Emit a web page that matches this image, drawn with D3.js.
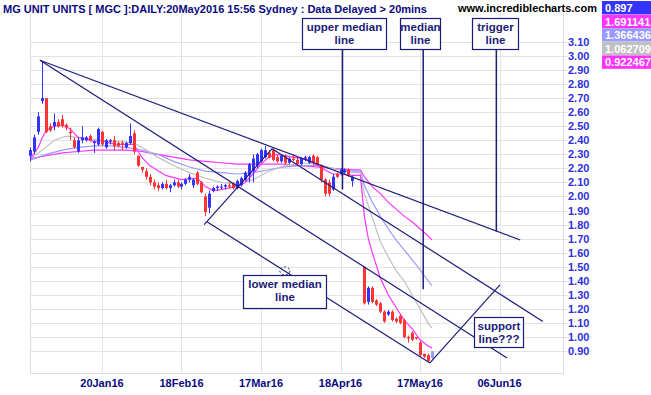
<!DOCTYPE html>
<html>
<head>
<meta charset="utf-8">
<script src="https://cdn.jsdelivr.net/npm/d3@7"></script>
<style>
  body { margin: 0; background: #fff; }
  svg { display: block; font-family: "Liberation Sans", Arial, sans-serif; }
</style>
</head>
<body>
<svg id="chart" width="651" height="395"></svg>
<script>
// bar index 0 = 20Jan16, one step per trading day
var tickIdx = [0, 20, 40, 60, 80, 100];
var tickLabels = ["20Jan16", "18Feb16", "17Mar16", "18Apr16", "17May16", "06Jun16"];
var priceTicks = [0.9, 1.0, 1.1, 1.2, 1.3, 1.4, 1.5, 1.6, 1.7, 1.8, 1.9, 2.0, 2.1, 2.2, 2.3, 2.4, 2.5, 2.6, 2.7, 2.8, 2.9, 3.0, 3.1];

// candles: [index, open, high, low, close]
var candles = [
  [-18, 2.29, 2.35, 2.25, 2.33], [-17, 2.32, 2.44, 2.30, 2.42], [-16, 2.46, 2.60, 2.44, 2.57],
  [-15, 2.68, 2.96, 2.66, 2.70], [-14, 2.70, 2.70, 2.45, 2.46], [-13, 2.50, 2.52, 2.46, 2.47],
  [-12, 2.50, 2.59, 2.47, 2.53], [-11, 2.53, 2.55, 2.49, 2.50], [-10, 2.55, 2.58, 2.49, 2.50],
  [-9, 2.51, 2.52, 2.47, 2.49], [-8, 2.46, 2.49, 2.40, 2.45], [-7, 2.40, 2.42, 2.34, 2.35],
  [-6, 2.32, 2.42, 2.31, 2.40], [-5, 2.40, 2.50, 2.38, 2.42], [-4, 2.40, 2.43, 2.39, 2.42],
  [-3, 2.43, 2.44, 2.39, 2.40], [-2, 2.38, 2.40, 2.31, 2.39], [-1, 2.37, 2.49, 2.36, 2.48],
  [0, 2.46, 2.47, 2.36, 2.37], [1, 2.35, 2.41, 2.34, 2.40], [2, 2.39, 2.41, 2.37, 2.40],
  [3, 2.40, 2.43, 2.33, 2.36], [4, 2.38, 2.39, 2.35, 2.36], [5, 2.38, 2.40, 2.33, 2.37],
  [6, 2.35, 2.39, 2.34, 2.38], [7, 2.38, 2.52, 2.37, 2.43], [8, 2.45, 2.47, 2.30, 2.32],
  [9, 2.29, 2.29, 2.21, 2.22], [10, 2.21, 2.21, 2.17, 2.19], [11, 2.18, 2.20, 2.12, 2.14],
  [12, 2.14, 2.16, 2.08, 2.10], [13, 2.10, 2.12, 2.05, 2.07], [14, 2.08, 2.10, 2.04, 2.06],
  [15, 2.06, 2.10, 2.05, 2.09], [16, 2.09, 2.12, 2.05, 2.06], [17, 2.06, 2.09, 2.03, 2.08],
  [18, 2.08, 2.12, 2.07, 2.10], [19, 2.10, 2.12, 2.06, 2.07], [20, 2.07, 2.10, 2.05, 2.09],
  [21, 2.09, 2.13, 2.08, 2.12], [22, 2.12, 2.16, 2.10, 2.14], [23, 2.08, 2.13, 2.06, 2.12],
  [24, 2.17, 2.18, 2.08, 2.09], [25, 2.10, 2.11, 2.02, 2.03], [26, 2.00, 2.02, 1.86, 1.89],
  [27, 1.92, 2.04, 1.88, 2.02], [28, 2.04, 2.07, 2.03, 2.06], [29, 2.06, 2.08, 2.04, 2.07],
  [30, 2.07, 2.09, 2.05, 2.07], [31, 2.07, 2.09, 2.05, 2.08], [32, 2.08, 2.10, 2.06, 2.07],
  [33, 2.09, 2.10, 2.05, 2.06], [34, 2.06, 2.12, 2.05, 2.11], [35, 2.08, 2.14, 2.07, 2.13],
  [36, 2.12, 2.18, 2.11, 2.17], [37, 2.15, 2.24, 2.10, 2.23], [38, 2.18, 2.30, 2.10, 2.27],
  [39, 2.22, 2.31, 2.20, 2.30], [40, 2.25, 2.34, 2.24, 2.33], [41, 2.28, 2.36, 2.27, 2.33],
  [42, 2.31, 2.33, 2.27, 2.28], [43, 2.33, 2.34, 2.25, 2.26], [44, 2.28, 2.30, 2.24, 2.25],
  [45, 2.25, 2.30, 2.24, 2.29], [46, 2.29, 2.30, 2.23, 2.24], [47, 2.24, 2.28, 2.23, 2.27],
  [48, 2.27, 2.30, 2.25, 2.26], [49, 2.26, 2.28, 2.22, 2.23], [50, 2.23, 2.28, 2.22, 2.27],
  [51, 2.27, 2.29, 2.25, 2.28], [52, 2.24, 2.29, 2.23, 2.28], [53, 2.29, 2.30, 2.22, 2.24],
  [54, 2.28, 2.29, 2.22, 2.23], [55, 2.22, 2.23, 2.10, 2.12], [56, 2.12, 2.13, 2.00, 2.02],
  [57, 2.10, 2.12, 2.00, 2.02], [58, 2.05, 2.16, 2.04, 2.14], [59, 2.16, 2.17, 2.13, 2.14],
  [60, 2.16, 2.20, 2.15, 2.19], [61, 2.17, 2.20, 2.16, 2.19], [62, 2.19, 2.20, 2.14, 2.15],
  [63, 2.11, 2.15, 2.07, 2.14],
  [66, 1.50, 1.50, 1.23, 1.24], [67, 1.25, 1.36, 1.23, 1.35], [68, 1.35, 1.36, 1.24, 1.25],
  [69, 1.26, 1.27, 1.22, 1.23], [70, 1.24, 1.25, 1.17, 1.18], [71, 1.18, 1.19, 1.10, 1.11],
  [72, 1.16, 1.19, 1.15, 1.18], [73, 1.18, 1.19, 1.11, 1.12], [74, 1.13, 1.14, 1.10, 1.11],
  [75, 1.15, 1.16, 1.09, 1.10], [76, 1.12, 1.13, 0.99, 1.00], [77, 1.00, 1.01, 0.96, 0.99],
  [78, 1.03, 1.04, 0.97, 0.98], [79, 1.00, 1.00, 0.98, 0.99], [80, 0.96, 0.97, 0.86, 0.87],
  [81, 0.88, 0.88, 0.85, 0.86], [82, 0.87, 0.88, 0.82, 0.83], [83, 0.85, 0.90, 0.84, 0.897]
];

// moving averages: [index, value]
var maFast = [[-18, 2.27], [-16, 2.35], [-15, 2.42], [-14, 2.47], [-12, 2.50], [-10, 2.51], [-8, 2.48],
  [-6, 2.42], [-4, 2.41], [-2, 2.39], [0, 2.40], [2, 2.38], [4, 2.37], [6, 2.37], [8, 2.37], [10, 2.28],
  [12, 2.22], [16, 2.15], [20, 2.12], [24, 2.13], [26, 2.07], [28, 2.04], [30, 2.05], [34, 2.07],
  [36, 2.10], [38, 2.16], [40, 2.23], [42, 2.28], [44, 2.30], [48, 2.28], [52, 2.26], [56, 2.19],
  [58, 2.16], [60, 2.16], [63, 2.15], [65, 2.15], [66, 1.86], [67, 1.70], [68, 1.60], [70, 1.42],
  [72, 1.30], [74, 1.21], [76, 1.12], [78, 1.06], [80, 0.98], [82, 0.935], [83, 0.922]];
var maGrey = [[-18, 2.27], [-15, 2.33], [-12, 2.40], [-9, 2.43], [-6, 2.42], [-3, 2.41], [0, 2.40],
  [4, 2.39], [8, 2.38], [10, 2.35], [14, 2.28], [18, 2.22], [22, 2.17], [26, 2.13], [30, 2.10],
  [34, 2.09], [38, 2.12], [42, 2.18], [46, 2.22], [50, 2.24], [54, 2.23], [58, 2.20], [63, 2.17],
  [65, 2.17], [66, 2.02], [68, 1.85], [70, 1.68], [72, 1.57], [74, 1.47], [76, 1.40], [78, 1.30],
  [80, 1.20], [82, 1.10], [83, 1.063]];
var maLav = [[-18, 2.26], [-14, 2.30], [-10, 2.33], [-6, 2.35], [-2, 2.36], [2, 2.36], [6, 2.35],
  [10, 2.33], [14, 2.30], [18, 2.25], [22, 2.21], [26, 2.18], [30, 2.17], [34, 2.16], [38, 2.17],
  [42, 2.19], [46, 2.21], [50, 2.22], [54, 2.22], [58, 2.20], [63, 2.18], [65, 2.18], [66, 2.08],
  [68, 1.96], [70, 1.86], [72, 1.77], [74, 1.69], [76, 1.62], [78, 1.55], [80, 1.48], [82, 1.40],
  [83, 1.366]];
var maSlow = [[-18, 2.27], [-14, 2.29], [-10, 2.31], [-6, 2.32], [-2, 2.33], [2, 2.33], [6, 2.33],
  [10, 2.32], [14, 2.30], [18, 2.28], [22, 2.26], [26, 2.25], [30, 2.24], [34, 2.23], [38, 2.23],
  [42, 2.23], [46, 2.23], [50, 2.22], [54, 2.21], [58, 2.20], [63, 2.19], [65, 2.19], [66, 2.14],
  [68, 2.07], [70, 2.02], [72, 1.96], [74, 1.91], [76, 1.86], [78, 1.82], [80, 1.77], [82, 1.72],
  [83, 1.691]];

var legendVals = ["0.897", "1.691141", "1.366436", "1.062709", "0.922467"];
var legendColors = ["#3333ff", "#ff33ff", "#9999ff", "#c0c0c0", "#ff33ff"];

// drawn trend lines: [[index, value], [index, value]]
var trendLines = [
  [[-15.6, 2.97], [105.2, 1.69]],   // trigger line
  [[-15.6, 2.97], [101.9, 0.85]],   // median line
  [[42.8, 2.34], [110.9, 1.11]],    // upper median line
  [[26.4, 1.82], [82.5, 0.815]],    // lower median line
  [[25.7, 1.80], [42.8, 2.34]],     // A-B
  [[82.5, 0.815], [100.1, 1.37]]    // support line
];

// text boxes: label lines, box [x, y, w, h], pointer [index, value] or null
var notes = [
  { text: ["upper median", "line"], box: [302, 18, 84, 31], ptr: [60.5, 2.05] },
  { text: ["median", "line"], box: [400, 18, 40, 31], ptr: [80.8, 1.34] },
  { text: ["trigger", "line"], box: [472, 18, 46, 31], ptr: [99.2, 1.75] },
  { text: ["lower median", "line"], box: [243, 275, 83, 33], ptr: null },
  { text: ["support", "line???"], box: [474, 317, 49, 30], ptr: null }
];

var pLeft = 30, pRight = 563, pTop = 13, pBottom = 373;

var x = d3.scaleLinear().domain([-18.11, 115.97]).range([pLeft, pRight]);
var y = d3.scaleLinear().domain([0.7434, 3.306]).range([pBottom, pTop]);

var svg = d3.select("#chart");
var navy = "#1c1c78";

// grid
svg.append("g").selectAll("line").data(priceTicks).enter().append("line")
  .attr("x1", pLeft).attr("x2", pRight + 5)
  .attr("y1", function (d) { return Math.round(y(d)) + 0.5; })
  .attr("y2", function (d) { return Math.round(y(d)) + 0.5; })
  .attr("stroke", "#e3e3e3");
svg.append("g").selectAll("line").data(tickIdx).enter().append("line")
  .attr("x1", function (d) { return Math.round(x(d)) + 0.5; })
  .attr("x2", function (d) { return Math.round(x(d)) + 0.5; })
  .attr("y1", pTop).attr("y2", pBottom)
  .attr("stroke", "#e3e3e3");
svg.append("path")
  .attr("d", "M" + (pLeft + 0.5) + "," + pTop + "V" + (pBottom + 0.5) + "H" + (pRight + 0.5) + "V" + pTop)
  .attr("fill", "none").attr("stroke", "#dcdcdc");

// axes labels
svg.append("g").selectAll("text").data(priceTicks).enter().append("text")
  .attr("x", 568).attr("y", function (d) { return y(d) + 4; })
  .attr("font-size", "11px").attr("font-weight", "bold").attr("fill", "#3030d8")
  .text(function (d) { return d.toFixed(2); });
svg.append("g").selectAll("text").data(tickIdx).enter().append("text")
  .attr("x", function (d) { return x(d); }).attr("y", 387)
  .attr("text-anchor", "middle")
  .attr("font-size", "11px").attr("font-weight", "bold").attr("fill", "#0a0a80")
  .text(function (d, i) { return tickLabels[i]; });

// moving averages
var line = d3.line().x(function (d) { return x(d[0]); }).y(function (d) { return y(d[1]); });
[[maSlow, "#ff33ff"], [maLav, "#9999ff"], [maGrey, "#c0c0c0"], [maFast, "#ff33ff"]].forEach(function (m) {
  svg.append("path").datum(m[0]).attr("d", line)
    .attr("fill", "none").attr("stroke", m[1]).attr("stroke-width", 1.2);
});

// candles
var cg = svg.append("g");
candles.forEach(function (c, i) {
  var col = c[4] >= c[1] ? "#3333ff" : "#ff3333";
  if (i === candles.length - 1) col = "#9999ff";
  var cx = Math.round(x(c[0]));
  cg.append("line").attr("x1", cx + 0.5).attr("x2", cx + 0.5)
    .attr("y1", y(c[2])).attr("y2", y(c[3])).attr("stroke", col);
  var yt = y(Math.max(c[1], c[4])), yb = y(Math.min(c[1], c[4]));
  cg.append("rect").attr("x", cx - 1).attr("y", yt)
    .attr("width", 3).attr("height", Math.max(1, yb - yt)).attr("fill", col);
});

// trend lines
svg.append("g").selectAll("line").data(trendLines).enter().append("line")
  .attr("x1", function (d) { return x(d[0][0]); }).attr("y1", function (d) { return y(d[0][1]); })
  .attr("x2", function (d) { return x(d[1][0]); }).attr("y2", function (d) { return y(d[1][1]); })
  .attr("stroke", navy).attr("stroke-width", 1.2);

// drawing handle on lower median line
svg.append("ellipse").attr("cx", x(46.0)).attr("cy", y(1.47)).attr("rx", 5).attr("ry", 4)
  .attr("fill", "none").attr("stroke", navy).attr("stroke-dasharray", "2,2");

// note boxes
notes.forEach(function (n) {
  var b = n.box;
  if (n.ptr) {
    svg.append("line").attr("x1", x(n.ptr[0])).attr("x2", x(n.ptr[0]))
      .attr("y1", b[1] + b[3]).attr("y2", y(n.ptr[1]))
      .attr("stroke", navy).attr("stroke-width", 1.5);
  }
  svg.append("rect").attr("x", b[0] + 0.5).attr("y", b[1] + 0.5).attr("width", b[2]).attr("height", b[3])
    .attr("fill", "#fff").attr("stroke", navy).attr("stroke-width", 1.2);
  n.text.forEach(function (t, k) {
    svg.append("text").attr("x", b[0] + b[2] / 2 + 0.5).attr("y", b[1] + 12.5 + k * 13.5)
      .attr("text-anchor", "middle").attr("font-size", "11.5px").attr("font-weight", "bold")
      .attr("fill", navy).text(t);
  });
});

// legend boxes
legendVals.forEach(function (v, i) {
  svg.append("rect").attr("x", 602).attr("y", 1 + i * 13.6).attr("width", 49).attr("height", 13.4)
    .attr("fill", legendColors[i]);
  svg.append("text").attr("x", 605).attr("y", 12 + i * 13.6)
    .attr("font-size", "11px").attr("font-weight", "bold").attr("fill", "#fff").text(v);
});

// title
svg.append("text").attr("x", 3).attr("y", 13)
  .attr("font-size", "11px").attr("font-weight", "bold").attr("fill", "#0a0a80")
  .text("MG UNIT UNITS [ MGC ]:DAILY:20May2016 15:56 Sydney : Data Delayed > 20mins");
svg.append("text").attr("x", 458).attr("y", 12)
  .attr("font-size", "11px").attr("font-weight", "bold").attr("fill", "#000")
  .text("www.incrediblecharts.com");
</script>
</body>
</html>
